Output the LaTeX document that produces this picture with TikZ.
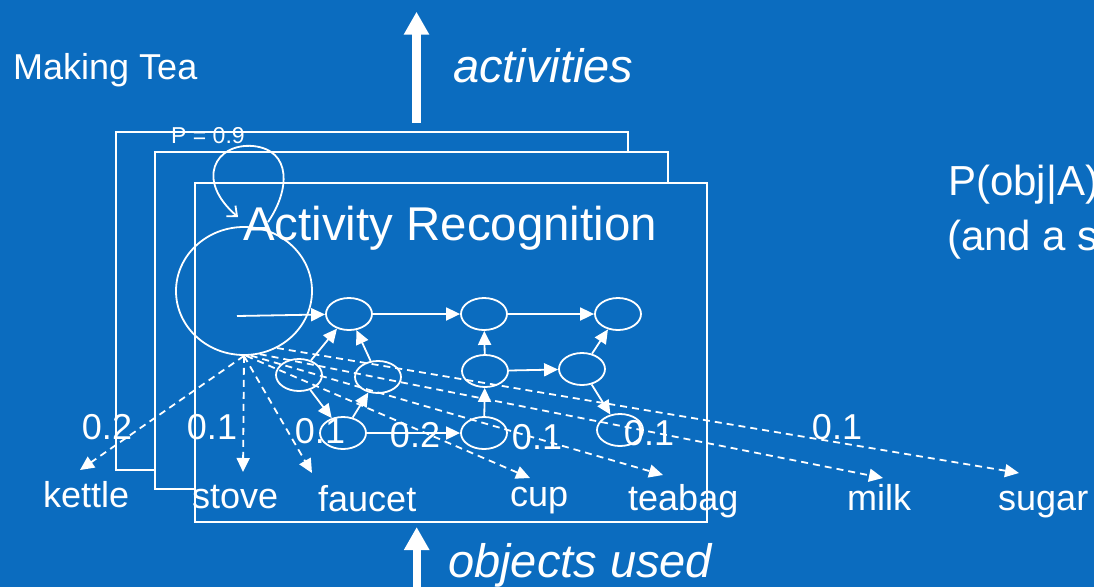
\documentclass[tikz,border=0pt]{standalone}
\usepackage{fontspec}
\setmainfont{Liberation Sans}
\usetikzlibrary{arrows.meta,shapes.geometric}
\definecolor{slidebg}{HTML}{0B6CBF}
\begin{document}
\begin{tikzpicture}[x=1pt,y=-1pt,
  frame/.style={draw=white,fill=slidebg,line width=1.8pt},
  hmmstate/.style={draw=white,line width=1.8pt,ellipse,minimum width=46pt,minimum height=32pt,inner sep=0pt},
  link/.style={white,line width=1.8pt,-{Triangle[length=14pt,width=13pt]}},
  obslink/.style={link,dash pattern=on 7pt off 5pt},
  prob/.style={text=white,inner sep=0pt,font=\fontsize{36}{36}\selectfont},
  objlabel/.style={text=white,inner sep=0pt,anchor=base west,font=\fontsize{36}{36}\selectfont},
  title/.style={text=white,inner sep=0pt,anchor=base west},
  bigarrow/.style={white,line width=8.3pt,-{Triangle[length=23pt,width=24pt]}},
]
% slide background and fixed page size
\fill[slidebg] (0,0) rectangle (1094,587);
\useasboundingbox (0,0) rectangle (1094,587);

% stacked activity frames, back to front
\draw[frame] (116,132) rectangle (628,470);
\draw[frame] (155,152) rectangle (668,489);
\draw[frame] (195,183) rectangle (707,522);

% headings
\node[title,font=\fontsize{36}{36}\selectfont] (making) at (13,79.5) {Making Tea};
\node[title,font=\itshape\fontsize{47}{47}\selectfont] (acts) at (453,82.7) {activities};
\node[title,font=\itshape\fontsize{47}{47}\selectfont] (objs) at (448,577) {objects used};
\node[title,font=\fontsize{47.4}{47.4}\selectfont] (actrec) at (243,240) {Activity Recognition};
\node[title,font=\fontsize{23}{23}\selectfont] (ploop) at (171,143.5) {P = 0.9};
\node[title,font=\fontsize{42}{42}\selectfont] (pobj) at (948,195) {P(obj|A)};
\node[title,font=\fontsize{42}{42}\selectfont] (pand) at (947,250) {(and a s};

% big arrows for the two layers
\coordinate (actFoot) at (416.5,122.7);
\coordinate (actTip) at (416.5,11.7);
\coordinate (objFoot) at (416.7,600);
\coordinate (objTip) at (416.7,527);
\draw[bigarrow] (actFoot) -- (actTip);
\draw[bigarrow] (objFoot) -- (objTip);

% activity state with its self transition
\node[draw=white,line width=1.8pt,ellipse,minimum width=136pt,minimum height=128pt,inner sep=0pt] (big) at (244,291) {};
\coordinate (loopA) at (268,222);
\coordinate (loopTop) at (253,146);
\coordinate (loopB) at (238,217);
\draw[white,line width=1.8pt,-{Straight Barb[length=8pt,width=14pt]}]
  (loopA) .. controls (290,190) and (292,150) .. (loopTop)
          .. controls (215,143) and (195,180) .. (loopB);

% inner state network
\node[hmmstate] (A1) at (349,314) {};
\node[hmmstate] (A2) at (484,314) {};
\node[hmmstate] (A3) at (618,314) {};
\node[hmmstate] (B1) at (299,375) {};
\node[hmmstate] (B2) at (378,377) {};
\node[hmmstate] (B3) at (485,371) {};
\node[hmmstate] (B4) at (582,369) {};
\node[hmmstate] (C1) at (343,433) {};
\node[hmmstate] (C2) at (484,433) {};
\node[hmmstate] (C3) at (620,430) {};

\coordinate (entry) at (237,316);
\draw[link] (entry) -- (A1);
\draw[link] (A1) -- (A2);
\draw[link] (A2) -- (A3);
\draw[link] (B1) -- (A1);
\draw[link] (B2) -- (A1);
\draw[link] (B3) -- (A2);
\draw[link] (B3) -- (B4);
\draw[link] (B4) -- (A3);
\draw[link] (B1) -- (C1);
\draw[link] (C1) -- (B2);
\draw[link] (C1) -- (C2);
\draw[link] (C2) -- (B3);
\draw[link] (B4) -- (C3);

% object observations
\coordinate (tKettle) at (80,470);
\coordinate (tStove) at (243,472);
\coordinate (tFaucet) at (312,473);
\coordinate (tCup) at (530,478);
\coordinate (tTea) at (663,475);
\coordinate (tMilk) at (883,478);
\coordinate (tSugar) at (1019,473);
\draw[obslink] (big.south) -- (tKettle);
\draw[obslink] (big.south) -- (tStove);
\draw[obslink] (big.south) -- (tFaucet);
\draw[obslink] (big.-88) -- (tCup);
\draw[obslink] (big.-84) -- (tTea);
\draw[obslink] (big.-76) -- (tMilk);
\draw[obslink] (big.-60) -- (tSugar);

% observation probabilities
\node[prob] (p1) at (107,427) {0.2};
\node[prob] (p2) at (212,427) {0.1};
\node[prob] (p3) at (320,431) {0.1};
\node[prob] (p4) at (415,435) {0.2};
\node[prob] (p5) at (537,437) {0.1};
\node[prob] (p6) at (649,433) {0.1};
\node[prob] (p7) at (837,427) {0.1};

% object names
\node[objlabel] (kettle) at (43,507) {kettle};
\node[objlabel] (stove) at (192,508) {stove};
\node[objlabel] (faucet) at (318,511.5) {faucet};
\node[objlabel] (cup) at (510,506.5) {cup};
\node[objlabel] (teabag) at (628,510) {teabag};
\node[objlabel] (milk) at (847,510) {milk};
\node[objlabel] (sugar) at (998,510) {sugar};
\end{tikzpicture}
\end{document}
